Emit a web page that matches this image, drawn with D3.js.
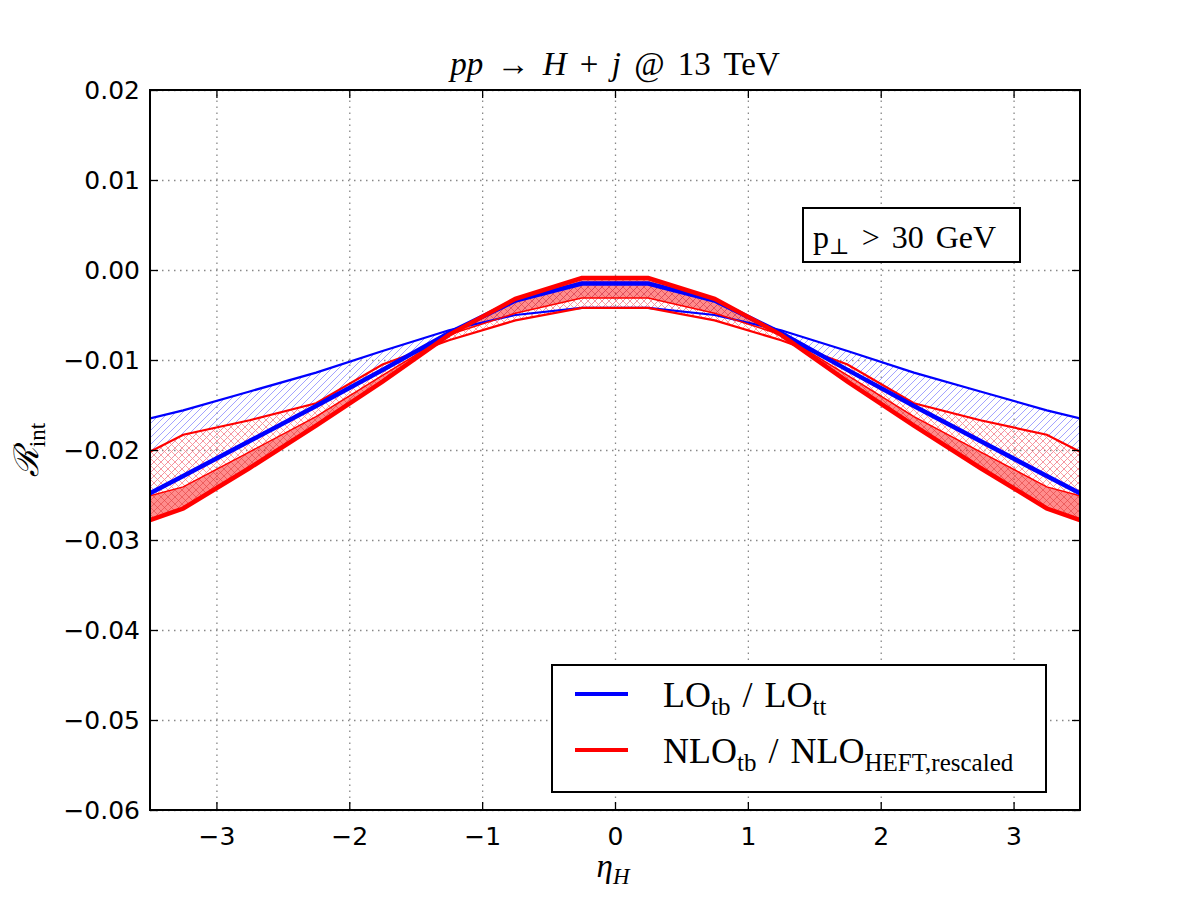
<!DOCTYPE html>
<html>
<head>
<meta charset="utf-8">
<script src="https://cdn.jsdelivr.net/npm/d3@7"></script>
<style>
  body { margin: 0; background: #fff; }
  .tick text { font-family: "DejaVu Sans", sans-serif; font-size: 25px; fill: #000; }
</style>
</head>
<body>
<div id="chart"></div>
<script>
/* R_int vs eta_H, pp -> H+j @ 13 TeV */

// eta_H points (bin centres, plus values read at the frame edges)
const eta = [-3.5, -3.25, -2.75, -2.25, -1.75, -1.25, -0.75, -0.25,
              0.25, 0.75, 1.25, 1.75, 2.25, 2.75, 3.25, 3.5];

// LO_tb / LO_tt : two edges of the blue band
const loThick = [-0.0248, -0.0229, -0.0190, -0.0151, -0.0111, -0.0070, -0.0034, -0.0015,
                 -0.0015, -0.0034, -0.0070, -0.0111, -0.0151, -0.0190, -0.0229, -0.0248];
const loThin  = [-0.0165, -0.0156, -0.0135, -0.0114, -0.0090, -0.0067, -0.0050, -0.0042,
                 -0.0042, -0.0050, -0.0067, -0.0090, -0.0114, -0.0135, -0.0156, -0.0165];

// NLO_tb / NLO_HEFT,rescaled : three red curves
const nloThick = [-0.0278, -0.0265, -0.0220, -0.0173, -0.0124, -0.0072, -0.0032, -0.0009,
                  -0.0009, -0.0032, -0.0072, -0.0124, -0.0173, -0.0220, -0.0265, -0.0278];
const nloMid   = [-0.0251, -0.0241, -0.0202, -0.0163, -0.0117, -0.0072, -0.0048, -0.0031,
                  -0.0031, -0.0048, -0.0072, -0.0117, -0.0163, -0.0202, -0.0241, -0.0251];
const nloThin  = [-0.0202, -0.0183, -0.0167, -0.0148, -0.0105, -0.0078, -0.0056, -0.0042,
                  -0.0042, -0.0056, -0.0078, -0.0105, -0.0148, -0.0167, -0.0183, -0.0202];

const xTicks = [-3, -2, -1, 0, 1, 2, 3];
const yTicks = [-0.06, -0.05, -0.04, -0.03, -0.02, -0.01, 0.00, 0.01, 0.02];

const width = 1200, height = 900,
      margin = ({ top: 90, right: 120, bottom: 90, left: 150 });

const svg = d3.select("#chart")
    .append("svg")
    .attr("width", width)
    .attr("height", height);

const x = d3.scaleLinear()
    .domain([-3.5, 3.5])
    .range([margin.left, width - margin.right]);

const y = d3.scaleLinear()
    .domain([-0.06, 0.02])
    .range([height - margin.bottom, margin.top]);

// hatch patterns
const defs = svg.append("defs");
function hatch(id, color, cross, sw) {
    const p = defs.append("pattern")
        .attr("id", id)
        .attr("patternUnits", "userSpaceOnUse")
        .attr("width", 7).attr("height", 7);
    p.append("path")
        .attr("d", "M-1,1 L1,-1 M0,7 L7,0 M6,8 L8,6")
        .attr("stroke", color).attr("stroke-width", sw);
    if (cross) {
        p.append("path")
            .attr("d", "M-1,6 L1,8 M0,0 L7,7 M6,-1 L8,1")
            .attr("stroke", color).attr("stroke-width", sw);
    }
}
hatch("blueHatch", "#8c8cff", false, 0.8);
hatch("redHatch", "#ff8c8c", true, 0.8);
hatch("redHatchDark", "#e04040", true, 0.6);

defs.append("clipPath").attr("id", "plotClip")
  .append("rect")
    .attr("x", margin.left).attr("y", margin.top)
    .attr("width", width - margin.left - margin.right)
    .attr("height", height - margin.top - margin.bottom);

// grid
svg.append("g")
    .attr("transform", `translate(0,${height - margin.bottom})`)
    .call(d3.axisBottom(x).tickValues(xTicks).tickSize(-(height - margin.top - margin.bottom)).tickFormat(""))
    .call(g => g.select(".domain").remove())
    .call(g => g.selectAll("line").attr("stroke", "#888").attr("stroke-width", 1.3).attr("stroke-dasharray", "1.5,4.5"));
svg.append("g")
    .attr("transform", `translate(${margin.left},0)`)
    .call(d3.axisLeft(y).tickValues(yTicks).tickSize(-(width - margin.left - margin.right)).tickFormat(""))
    .call(g => g.select(".domain").remove())
    .call(g => g.selectAll("line").attr("stroke", "#888").attr("stroke-width", 1.3).attr("stroke-dasharray", "1.5,4.5"));

// bands and curves
const rows = eta.map((e, i) => ({
    eta: e, loThick: loThick[i], loThin: loThin[i],
    nloThick: nloThick[i], nloMid: nloMid[i], nloThin: nloThin[i]
}));

const plot = svg.append("g").attr("clip-path", "url(#plotClip)");

const band = (a, b) => d3.area().x(d => x(d.eta)).y0(d => y(d[a])).y1(d => y(d[b]));
const line = k => d3.line().x(d => x(d.eta)).y(d => y(d[k]));

plot.append("path").datum(rows)
    .attr("d", band("loThick", "loThin"))
    .attr("fill", "url(#blueHatch)");
plot.append("path").datum(rows)
    .attr("d", band("nloMid", "nloThin"))
    .attr("fill", "url(#redHatch)");
plot.append("path").datum(rows)
    .attr("d", band("nloThick", "nloMid"))
    .attr("fill", "#ff0000").attr("fill-opacity", 0.45);
plot.append("path").datum(rows)
    .attr("d", band("nloThick", "nloMid"))
    .attr("fill", "url(#redHatchDark)");

const curves = [
    { key: "loThin",   color: "#0000ff", w: 2.2 },
    { key: "nloThin",  color: "#ff0000", w: 2.2 },
    { key: "nloMid",   color: "#ff0000", w: 1.5 },
    { key: "loThick",  color: "#0000ff", w: 4.5 },
    { key: "nloThick", color: "#ff0000", w: 4.5 }
];
curves.forEach(c => {
    plot.append("path").datum(rows)
        .attr("d", line(c.key))
        .attr("fill", "none")
        .attr("stroke", c.color)
        .attr("stroke-width", c.w)
        .attr("stroke-linejoin", "miter");
});

// axes, ticks pointing inwards on all four sides
const tickLen = 8;
svg.append("g")
    .attr("transform", `translate(0,${height - margin.bottom})`)
    .call(d3.axisBottom(x).tickValues(xTicks).tickSize(-tickLen).tickPadding(17).tickFormat(d3.format("d")))
    .call(g => g.select(".domain").remove());
svg.append("g")
    .attr("transform", `translate(0,${margin.top})`)
    .call(d3.axisTop(x).tickValues(xTicks).tickSize(-tickLen).tickFormat(""))
    .call(g => g.select(".domain").remove());
svg.append("g")
    .attr("transform", `translate(${margin.left},0)`)
    .call(d3.axisLeft(y).tickValues(yTicks).tickSize(-tickLen).tickPadding(10).tickFormat(d3.format(".2f")))
    .call(g => g.select(".domain").remove());
svg.append("g")
    .attr("transform", `translate(${width - margin.right},0)`)
    .call(d3.axisRight(y).tickValues(yTicks).tickSize(-tickLen).tickFormat(""))
    .call(g => g.select(".domain").remove());
svg.selectAll(".tick line").filter(function() { return !this.getAttribute("stroke-dasharray"); })
    .attr("stroke", "#000").attr("stroke-width", 1.3);

// frame
svg.append("rect")
    .attr("x", margin.left).attr("y", margin.top)
    .attr("width", width - margin.left - margin.right)
    .attr("height", height - margin.top - margin.bottom)
    .attr("fill", "none").attr("stroke", "#000").attr("stroke-width", 2);

const serif = "'Liberation Serif', 'DejaVu Serif', serif";

// title
const title = svg.append("text")
    .attr("x", (margin.left + width - margin.right) / 2).attr("y", 75)
    .attr("text-anchor", "middle")
    .style("font-family", serif).style("font-size", "33px")
    .style("word-spacing", "5px");
title.append("tspan").style("font-style", "italic").text("pp");
title.append("tspan").text(" \u2192 ");
title.append("tspan").style("font-style", "italic").text("H");
title.append("tspan").text(" + ");
title.append("tspan").style("font-style", "italic").text("j");
title.append("tspan").text(" @ 13 TeV");

// x label
const xl = svg.append("text")
    .attr("x", 613).attr("y", 877)
    .attr("text-anchor", "middle")
    .style("font-family", serif).style("font-size", "33px").style("font-style", "italic");
xl.append("tspan").text("\u03b7");
xl.append("tspan").attr("dy", 7).style("font-size", "23px").text("H");

// y label
const yl = svg.append("text")
    .attr("transform", "translate(38,450) rotate(-90)")
    .attr("text-anchor", "middle")
    .style("font-family", serif).style("font-size", "34px");
yl.append("tspan").style("font-style", "italic").text("\u211b");
yl.append("tspan").attr("dy", 7).style("font-size", "23px").text("int");

// pT cut box
svg.append("rect")
    .attr("x", 803).attr("y", 208).attr("width", 217).attr("height", 54)
    .attr("fill", "#fff").attr("stroke", "#000").attr("stroke-width", 2);
const pt = svg.append("text")
    .attr("x", 813).attr("y", 248)
    .style("font-family", serif).style("font-size", "32px")
    .style("word-spacing", "4px");
pt.append("tspan").text("p");
pt.append("tspan").attr("dy", 6).style("font-size", "22px").text("\u22a5");
pt.append("tspan").attr("dy", -6).text(" > 30 GeV");

// legend
const legend = svg.append("g");
legend.append("rect")
    .attr("x", 552).attr("y", 665).attr("width", 494).attr("height", 127)
    .attr("fill", "#fff").attr("stroke", "#000").attr("stroke-width", 2);
const entries = [
    { color: "#0000ff", main: "LO", sub: "tb", main2: " / LO", sub2: "tt" },
    { color: "#ff0000", main: "NLO", sub: "tb", main2: " / NLO", sub2: "HEFT,rescaled" }
];
entries.forEach((e, i) => {
    const yy = 694 + i * 56;
    legend.append("line")
        .attr("x1", 575).attr("x2", 628).attr("y1", yy).attr("y2", yy)
        .attr("stroke", e.color).attr("stroke-width", 4);
    const t = legend.append("text")
        .attr("x", 663).attr("y", yy + 13)
        .style("font-family", serif).style("font-size", "36px")
        .style("word-spacing", "3px");
    t.append("tspan").text(e.main);
    t.append("tspan").attr("dy", 8).style("font-size", "25px").text(e.sub);
    t.append("tspan").attr("dy", -8).text(e.main2);
    t.append("tspan").attr("dy", 8).style("font-size", "25px").text(e.sub2);
});
</script>
</body>
</html>
